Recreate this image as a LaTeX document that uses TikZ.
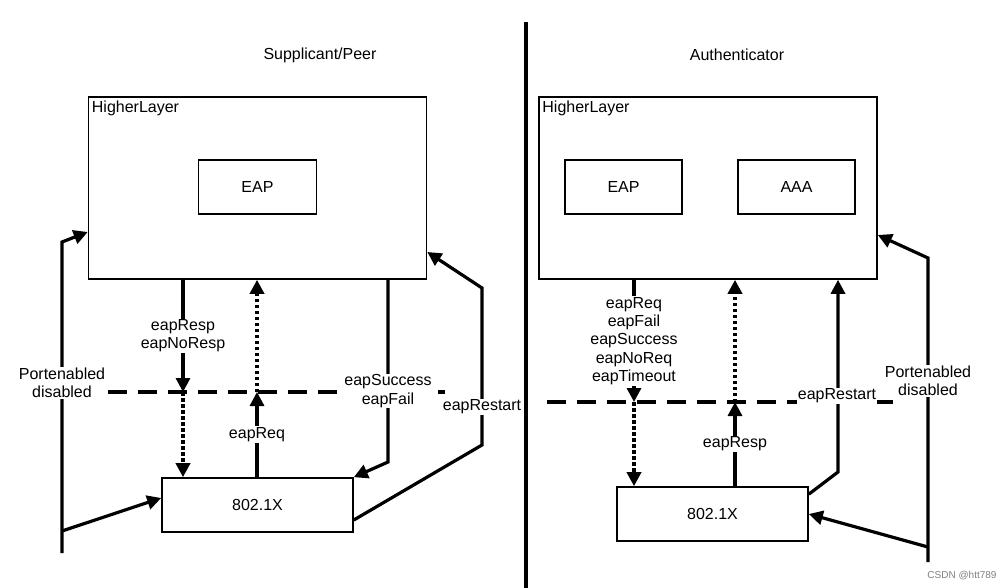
\documentclass[tikz,border=0pt]{standalone}
\usepackage{fontspec}
\setmainfont{Liberation Sans}
\usetikzlibrary{arrows.meta}

\begin{document}
\begin{tikzpicture}[x=1pt, y=-1pt,
      every node/.style = {font=\fontsize{16}{18.3}\selectfont, align=center},
      box/.style = {draw, line width=1.6pt, inner sep=0pt},
      sig/.style = {line width=3.2pt, -{Triangle[length=14pt, width=14pt]}},
      sigdot/.style = {sig, line width=4pt, dash pattern=on 3.5pt off 2.5pt},
      port/.style = {line width=3.2pt, dash pattern=on 19pt off 11pt},
      lbl/.style = {fill=white, inner sep=1pt}]
  \useasboundingbox (0,0) rectangle (1006,588);
  % titles and divider
  \node (tS) at (320,55) {Supplicant/Peer};
  \node (tA) at (737,55) {Authenticator};
  \draw[line width=4.5pt] (526,22) -- (526,588);
  % supplicant
  \node[box, minimum width=338pt, minimum height=182pt] (hlS) at (257.5,188) {};
  \node[anchor=north west, inner xsep=4pt, inner ysep=5pt] (hlSname) at (hlS.north west) {HigherLayer};
  \node[box, minimum width=118pt, minimum height=54pt] (eapS) at (257.5,187) {EAP};
  \node[box, minimum width=191pt, minimum height=54pt] (xS) at (257.5,505) {802.1X};
  \coordinate (dS1) at (108,392);
  \coordinate (dS2) at (445,392);
  \draw[port] (dS1) -- (dS2);
  \coordinate (sR) at (183,392);
  \coordinate (sQ) at (257,392);
  \coordinate (sF) at (388,462);
  \coordinate (rS1) at (482,445);
  \coordinate (rS2) at (482,288);
  \coordinate (pS0) at (62,553);
  \coordinate (pS1) at (62,242);
  \coordinate (pS2) at (62,531);
  \draw[sig] (sR |- hlS.south) -- node[lbl] (sRlbl) {eapResp\\eapNoResp} (sR);
  \draw[sigdot] (sR) -- (sR |- xS.north);
  \draw[sig] (sQ |- xS.north) -- node[lbl] (sQlbl) {eapReq} (sQ);
  \draw[sigdot] (sQ) -- (sQ |- hlS.south);
  \draw[sig] (sF |- hlS.south) -- (sF) -- (xS.north east);
  \draw[sig] ([yshift=-15pt]xS.east) -- (rS1) -- (rS2) -- ([yshift=-64pt]hlS.east);
  \draw[sig] (pS0) -- (pS1) -- ([yshift=-44pt]hlS.west);
  \draw[sig] (pS2) -- ([yshift=7pt]xS.west);
  \node[lbl] (sFlbl) at (388,391) {eapSuccess\\eapFail};
  \node[lbl] (rSlbl) at (482,407) {eapRestart};
  \node[lbl] (pSlbl) at (62,383) {Portenabled\\disabled};
  % authenticator
  \node[box, minimum width=338pt, minimum height=182pt] (hlA) at (708,188) {};
  \node[anchor=north west, inner xsep=4pt, inner ysep=5pt] (hlAname) at (hlA.north west) {HigherLayer};
  \node[box, minimum width=117pt, minimum height=54pt] (eapA) at (623.5,187) {EAP};
  \node[box, minimum width=117pt, minimum height=54pt] (aaa) at (796.5,187) {AAA};
  \node[box, minimum width=191pt, minimum height=54pt] (xA) at (712.5,514) {802.1X};
  \coordinate (dA1) at (547,402);
  \coordinate (dA2) at (893,402);
  \draw[port] (dA1) -- (dA2);
  \coordinate (aQ) at (634,402);
  \coordinate (aP) at (735,402);
  \coordinate (aR) at (838,472);
  \coordinate (pA0) at (928,562);
  \coordinate (pA1) at (928,258);
  \coordinate (pA2) at (928,547);
  \draw[sig] (aQ |- hlA.south) -- node[lbl] (aQlbl) {eapReq\\eapFail\\eapSuccess\\eapNoReq\\eapTimeout} (aQ);
  \draw[sigdot] (aQ) -- (aQ |- xA.north);
  \draw[sig] (aP |- xA.north) -- node[lbl] (aPlbl) {eapResp} (aP);
  \draw[sigdot] (aP) -- (aP |- hlA.south);
  \draw[sig] ([yshift=-8pt]xA.north east) -- (aR) -- (aR |- hlA.south);
  \draw[sig] (pA0) -- (pA1) -- ([yshift=-47pt]hlA.east);
  \draw[sig] (pA2) -- (xA.east);
  \node[lbl] (aRlbl) at (837,396) {eapRestart};
  \node[lbl] (pAlbl) at (928,381) {Portenabled\\disabled};
  \node[font=\fontsize{10}{12}\selectfont, text=gray] (wm) at (962,576) {CSDN @htt789};
\end{tikzpicture}
\end{document}
